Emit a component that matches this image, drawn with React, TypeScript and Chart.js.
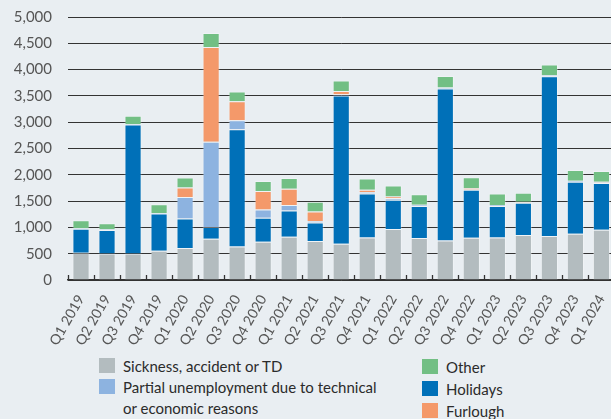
import React, { useEffect, useRef } from "react";
import { Chart, registerables } from "chart.js";

Chart.register(...registerables);

const categories = [
  "Q1 2019", "Q2 2019", "Q3 2019", "Q4 2019",
  "Q1 2020", "Q2 2020", "Q3 2020", "Q4 2020",
  "Q1 2021", "Q2 2021", "Q3 2021", "Q4 2021",
  "Q1 2022", "Q2 2022", "Q3 2022", "Q4 2022",
  "Q1 2023", "Q2 2023", "Q3 2023", "Q4 2023",
  "Q1 2024",
];

const sickness = [520, 506, 506, 557, 608, 785, 639, 728, 823, 741, 690, 810, 968, 797, 753, 804, 810, 854, 835, 880, 956];
const holidays = [455, 443, 2450, 705, 563, 221, 2228, 456, 500, 354, 2816, 836, 557, 608, 2886, 911, 595, 614, 3038, 987, 886];
const partial = [10, 15, 10, 10, 405, 1621, 171, 158, 101, 25, 26, 25, 32, 19, 19, 5, 19, 5, 19, 19, 10];
const furlough = [0, 0, 0, 0, 183, 1803, 361, 348, 310, 184, 63, 44, 32, 5, 0, 26, 0, 14, 0, 0, 15];
const other = [150, 115, 155, 170, 190, 266, 183, 190, 203, 183, 196, 215, 208, 203, 222, 208, 222, 171, 203, 203, 203];

const yTicks = [0, 500, 1000, 1500, 2000, 2500, 3000, 3500, 4000, 4500, 5000];

const C_SICK = "#b3bcbf";
const C_HOL = "#0070b8";
const C_PART = "#8db3e0";
const C_FURL = "#f4996a";
const C_OTHER = "#72bf84";
const BG = "#e9eef2";
const FONT = "Lato, 'Open Sans', sans-serif";

export default function App() {
  const ref = useRef<HTMLCanvasElement | null>(null);

  useEffect(() => {
    if (!ref.current) return;
    const boundaryTicks = {
      id: "boundaryTicks",
      afterDatasetsDraw(chart: any) {
        const x = chart.scales.x;
        const ctx = chart.ctx;
        const bottom = chart.chartArea.bottom;
        ctx.save();
        ctx.strokeStyle = "#333";
        ctx.lineWidth = 1.3;
        for (let i = 0; i <= categories.length; i++) {
          let px: number;
          if (i === 0) px = x.left;
          else if (i === categories.length) px = x.right;
          else px = (x.getPixelForValue(i - 1) + x.getPixelForValue(i)) / 2;
          ctx.beginPath();
          ctx.moveTo(Math.round(px) + 0.5, bottom);
          ctx.lineTo(Math.round(px) + 0.5, bottom - 5);
          ctx.stroke();
        }
        ctx.restore();
      },
    };

    const mk = (label: string, data: number[], color: string) => ({
      label,
      data,
      backgroundColor: color,
      borderColor: "rgba(255,255,255,0.3)",
      borderWidth: 1,
      categoryPercentage: 1,
      barPercentage: 0.66,
    });

    const chart = new Chart(ref.current, {
      type: "bar",
      data: {
        labels: categories,
        datasets: [
          mk("Sickness, accident or TD", sickness, C_SICK),
          mk("Holidays", holidays, C_HOL),
          mk("Partial unemployment due to technical or economic reasons", partial, C_PART),
          mk("Furlough", furlough, C_FURL),
          mk("Other", other, C_OTHER),
        ],
      },
      options: {
        responsive: false,
        animation: false,
        layout: { padding: { top: 10, right: 0, bottom: 0, left: 0 } },
        plugins: { legend: { display: false }, tooltip: { enabled: false } },
        scales: {
          x: {
            stacked: true,
            grid: { display: false, offset: true },
            border: { display: true, color: "#333", width: 1.5 },
            ticks: {
              color: "#555",
              font: { family: FONT, size: 14 },
              minRotation: 60,
              maxRotation: 60,
              padding: 4,
              autoSkip: false,
            },
            afterFit(scale: any) {
              scale.height = 65;
            },
          },
          y: {
            stacked: true,
            min: 0,
            max: 5000,
            afterBuildTicks(scale: any) {
              scale.ticks = yTicks.map((v) => ({ value: v }));
            },
            grid: { color: "#333", lineWidth: 1, drawTicks: false },
            border: { display: false },
            ticks: {
              color: "#555",
              font: { family: FONT, size: 15 },
              padding: 16,
              callback: (v: any) => Number(v).toLocaleString("en-US"),
            },
            afterFit(scale: any) {
              scale.width = 68;
            },
          },
        },
      },
      plugins: [boundaryTicks],
    });
    return () => chart.destroy();
  }, []);

  const box = (left: number, top: number, color: string) => (
    <div style={{ position: "absolute", left, top, width: 16, height: 15, background: color }} />
  );
  const txt = (left: number, center: number, s: string) => (
    <div
      style={{
        position: "absolute",
        left,
        top: center - 10.5,
        lineHeight: "21px",
        fontSize: 15,
        fontFamily: FONT,
        color: "#2b2b2b",
        whiteSpace: "nowrap",
      }}
    >
      {s}
    </div>
  );

  return (
    <div style={{ position: "absolute", left: 0, top: 0, width: 611, height: 419, background: BG, overflow: "hidden" }}>
      <canvas ref={ref} width={620} height={353} style={{ position: "absolute", left: 0, top: -8 }} />
      {box(99, 358, C_SICK)}
      {txt(123, 366, "Sickness, accident or TD")}
      {box(99, 379, C_PART)}
      {txt(123, 387, "Partial unemployment due to technical")}
      {txt(123, 408, "or economic reasons")}
      {box(422, 359, C_OTHER)}
      {txt(446, 367, "Other")}
      {box(422, 381, C_HOL)}
      {txt(446, 389, "Holidays")}
      {box(422, 403, C_FURL)}
      {txt(446, 411, "Furlough")}
    </div>
  );
}
